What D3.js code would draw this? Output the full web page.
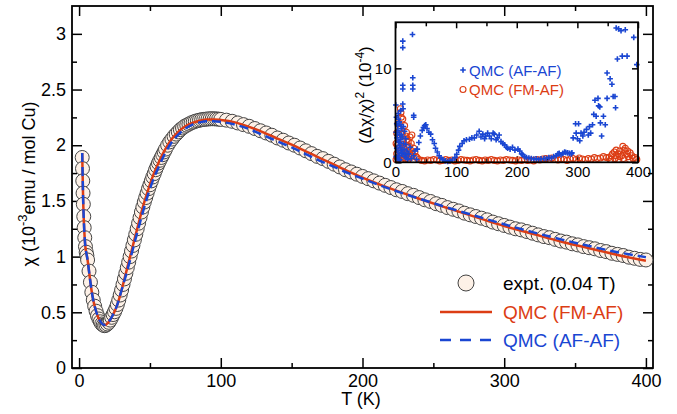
<!DOCTYPE html>
<html>
<head>
<meta charset="utf-8">
<style>
    body { margin: 0; background: #fff; }
    svg { font-family: 'Liberation Sans', Arial, sans-serif; }
    .axis .domain { display: none; }
    .axis .tick line { stroke: #000; stroke-width: 1.5; }
    .axis .tick text { fill: #000; }
</style>
</head>
<body>
<svg width="677" height="414"></svg>
<script src="https://cdn.jsdelivr.net/npm/d3@7"></script>
<script>
// experiment (0.04 T)
let expT = [2.2, 2.4, 2.6, 2.8, 3.0, 3.3, 3.6, 4.0, 4.5, 5, 5.5, 6, 7, 8, 9, 10, 11, 12, 13, 14, 15, 16, 17, 18, 19, 20, 21, 22, 23, 24,
    25, 26, 27, 28, 29, 30, 31, 32, 33, 34, 35, 36, 37, 38, 39, 40, 41, 42, 43, 44, 45, 46, 47, 48, 49, 50, 51, 52, 53, 54, 55, 56,
    57, 58, 59, 60, 61, 62.5, 64, 65.5, 67, 68.5, 70, 71.5, 73, 74.5, 76, 77.5, 79, 80.5, 82, 83.5, 85, 86.5, 88, 89.5, 91, 92.5,
    94, 95.5, 97, 98.5, 100,
    104, 108, 112, 116, 120, 124, 128, 132, 136, 140, 144, 148, 152, 156, 160, 164, 168, 172, 176, 180, 184, 188, 192, 196, 200,
    204, 208, 212, 216, 220, 224, 228, 232, 236, 240, 244, 248, 252, 256, 260, 264, 268, 272, 276, 280, 284, 288, 292, 296, 300,
    304, 308, 312, 316, 320, 324, 328, 332, 336, 340, 344, 348, 352, 356, 360, 364, 368, 372, 376, 380, 384, 388, 392, 396, 400]
let expChi = [1.89, 1.79, 1.68, 1.57, 1.47, 1.36, 1.26, 1.17, 1.09, 1.04, 1.01, 0.97, 0.87, 0.77, 0.68, 0.61, 0.555, 0.51, 0.47, 0.44,
    0.415, 0.395, 0.385, 0.38, 0.385, 0.395, 0.41, 0.43, 0.455, 0.48, 0.505, 0.535, 0.57, 0.61,
    0.655, 0.70, 0.75, 0.80, 0.85, 0.90, 0.95, 1.00, 1.05, 1.10, 1.15, 1.20, 1.25, 1.30, 1.35, 1.40, 1.445, 1.49, 1.53, 1.57,
    1.61, 1.645, 1.68, 1.715, 1.745, 1.78, 1.81, 1.84, 1.865, 1.89, 1.915, 1.94, 1.965,
    2.0, 2.03, 2.055, 2.08, 2.10, 2.12, 2.14, 2.155, 2.17, 2.18, 2.19, 2.20, 2.208, 2.215, 2.22, 2.225, 2.229, 2.232, 2.234, 2.236,
    2.237, 2.238, 2.237, 2.236, 2.234, 2.232,
    2.225, 2.215, 2.20, 2.185, 2.17, 2.15, 2.13, 2.11, 2.09, 2.065, 2.045, 2.02, 2.0, 1.975, 1.95, 1.925, 1.90, 1.88, 1.855, 1.83,
    1.805, 1.78, 1.76, 1.74, 1.72, 1.70, 1.68, 1.66, 1.64, 1.62, 1.60, 1.585, 1.565, 1.55, 1.53, 1.51, 1.495, 1.475, 1.46, 1.44,
    1.425, 1.41, 1.39, 1.375, 1.36, 1.345, 1.33, 1.31, 1.295, 1.28, 1.265, 1.25, 1.24, 1.225, 1.21, 1.195, 1.18, 1.17, 1.155, 1.14,
    1.13, 1.115, 1.105, 1.09, 1.08, 1.07, 1.055, 1.045, 1.03, 1.02, 1.01, 0.995, 0.985, 0.975, 0.97]

// QMC curves
let qmcT = [2.2, 2.4, 2.6, 2.8, 3.0, 3.3, 3.6, 4.0, 4.5, 5, 6, 7, 8, 9, 10, 11, 12, 13, 14, 15, 16, 17, 18, 19, 20, 22, 24, 26, 28, 30,
    33, 36, 39, 42, 45, 48, 52, 56, 60, 65, 70, 75, 80, 85, 90, 95, 100, 110, 120, 130, 140, 150, 160, 170, 180, 190, 200,
    220, 240, 260, 280, 300, 320, 340, 360, 380, 400]
let fmAf = [1.93, 1.80, 1.67, 1.55, 1.45, 1.34, 1.25, 1.16, 1.08, 1.04, 0.97, 0.87, 0.77, 0.68, 0.61, 0.555, 0.51, 0.47, 0.44, 0.418,
    0.40, 0.39, 0.387, 0.39, 0.40, 0.435, 0.48, 0.535, 0.61, 0.70,
    0.85, 1.00, 1.15, 1.30, 1.445, 1.57, 1.72, 1.84, 1.945, 2.05, 2.12, 2.17, 2.20, 2.22, 2.23, 2.232, 2.226, 2.205, 2.165, 2.115,
    2.06, 2.005, 1.945, 1.885, 1.825, 1.765, 1.71, 1.61, 1.52, 1.435, 1.355, 1.275, 1.205, 1.135, 1.075, 1.015, 0.962]
let afAf = [1.93, 1.80, 1.67, 1.55, 1.45, 1.34, 1.25, 1.16, 1.08, 1.04, 0.97, 0.87, 0.77, 0.68, 0.61, 0.555, 0.51, 0.47, 0.44, 0.418,
    0.40, 0.39, 0.387, 0.39, 0.40, 0.435, 0.48, 0.535, 0.61, 0.70,
    0.83, 0.97, 1.12, 1.26, 1.40, 1.53, 1.68, 1.80, 1.91, 2.02, 2.095, 2.15, 2.185, 2.205, 2.215, 2.215, 2.21, 2.185, 2.145, 2.09,
    2.035, 1.98, 1.92, 1.86, 1.805, 1.75, 1.70, 1.605, 1.52, 1.44, 1.365, 1.29, 1.22, 1.155, 1.095, 1.04, 0.995]

// inset: (dchi/chi)^2 in 1e-4, [T, value]
let devAfAf = [[0.5, 6.1], [1, 3.2], [1.5, 4.8], [2, 1.5], [2.5, 2.6], [3, 0.4], [3.5, 3.9], [4, 1.1], [4.5, 5.2], [5, 2.2], [5.5, 0.7],
    [6, 4.3], [6.5, 1.8], [7, 3.0], [7.5, 0.3], [8, 2.4], [8.5, 5.5], [9, 1.3], [9.5, 3.6], [10, 0.9], [11, 2.7], [12, 6.2], [12.5, 5.7],
    [13, 2.0], [14, 1.4], [15, 3.3], [16, 0.8], [17, 1.9], [18, 0.5], [19, 1.2], [20, 0.3], [1, 0.6], [2, 4.1], [3, 2.9], [4, 3.4],
    [5, 4.6], [6, 0.2], [7, 2.1], [8, 1.6], [9, 4.0], [10, 2.9], [11, 1.0], [13, 3.8], [15, 0.6], [17, 2.5], [22, 0.9], [24, 1.6],
    [26, 0.4], [30, 0.7], [32, 1.2], [35, 0.3],
    [12, 12.9], [12, 12.2], [12, 8.2], [12, 7.8], [28, 13.6], [28.5, 9.0], [28.5, 8.2], [28.5, 7.8], [30, 5.0], [30, 4.8],
    [36, 1.4], [38.5, 2.1], [41, 2.8], [44, 3.4], [46, 3.7], [48, 3.9], [50, 4.0], [52, 3.6], [55, 3.2], [58, 3.0], [61, 2.4], [64, 2.0],
    [66, 1.5], [69, 1.1], [72, 0.7], [75, 0.45], [78, 0.3], [82, 0.15], [86, 0.1], [90, 0.15], [94, 0.25], [98, 0.5], [101, 0.85],
    [104, 1.3], [106, 1.7], [110, 2.0], [113, 2.3], [117, 2.4], [122, 2.45], [126, 2.6], [130, 2.6], [134, 2.9], [138, 3.3], [141, 2.7],
    [144, 3.0], [147, 2.5], [149, 2.8], [152, 3.1], [155, 2.8], [158, 2.5], [161, 3.1], [163, 3.0], [166, 2.4], [168, 2.6], [171, 2.9],
    [174, 2.2], [177, 2.0], [180, 1.85], [183, 1.6], [185, 1.5], [189, 1.4], [193, 1.6], [197, 1.3], [202, 1.4], [205, 1.2], [208, 0.9],
    [210, 0.8], [213, 0.6], [216, 0.5], [220, 0.45], [224, 0.4], [228, 0.35], [232, 0.36], [236, 0.3], [240, 0.36], [245, 0.4],
    [249, 0.4], [253, 0.5], [257, 0.45], [261, 0.6], [265, 0.7], [268, 0.9], [270, 0.95], [273, 0.8], [276, 0.95], [279, 1.1],
    [281, 1.05], [284, 1.0], [287, 0.95], [290, 0.9], [291, 1.0],
    [293, 2.6], [297, 4.1], [298, 3.1], [300, 2.5], [302, 4.1], [304, 2.3], [306, 3.1], [309, 2.8], [311, 3.2], [315, 3.5], [318, 2.9],
    [320, 3.8], [322, 3.1], [325, 4.0], [327, 5.1], [329, 6.6], [331, 4.9], [334, 6.8], [335, 6.0], [337, 5.9], [338, 4.2], [340, 2.8],
    [343, 4.9], [346, 4.0], [349, 6.8], [349, 9.5], [354, 8.9], [357, 8.3], [359, 7.0], [362, 7.0], [363, 5.8], [364, 14.3],
    [366, 11.0], [368, 14.2], [372, 14.0], [374, 11.3], [379, 14.1], [382, 11.3], [393, 13.3], [398, 10.4]]

let devFmAf = [[1, 2.0], [2, 3.1], [3, 1.8], [4, 4.1], [5, 2.6], [6, 1.2], [7, 3.5], [8, 5.7], [9, 5.3], [9.5, 4.8], [10, 0.8],
    [11, 3.0], [12, 4.6], [13, 2.2], [14, 1.5], [15, 3.9], [16, 0.9], [17, 2.8], [18, 3.2], [19, 1.8], [20, 1.1], [21, 2.2], [22, 0.6],
    [23, 1.7], [24, 2.7], [25, 1.3], [27, 2.9], [28, 0.8], [30, 1.5], [32, 1.1], [34, 0.6], [36, 0.45], [1, 0.3], [2, 0.9], [3, 0.5],
    [5, 0.4], [7, 1.6], [9, 0.3], [11, 1.9], [13, 0.5], [15, 1.0], [17, 0.4], [19, 2.4], [21, 0.3], [23, 0.9], [25, 0.5], [26, 2.0],
    [352, 0.5], [356, 0.7], [358, 0.9], [361, 1.1], [364, 1.3], [364, 0.7], [367, 0.9], [370, 1.2], [370, 0.6], [373, 0.7], [375, 1.7],
    [377, 1.3], [379, 1.5], [381, 0.9], [383, 1.2], [384, 0.6], [387, 1.0], [390, 0.7], [392, 0.4], [395, 0.5], [398, 0.3], [355, 0.3],
    [362, 0.4], [368, 0.3], [376, 0.4], [386, 0.3]]
let baseT = [38, 43, 48, 53, 58, 63, 68, 73, 78, 83, 88, 93, 98, 103, 108, 113, 118, 123, 128, 133, 138, 143, 148, 153, 158, 163,
    168, 173, 178, 183, 188, 193, 198, 203, 208, 213, 218, 223, 228, 233, 238, 243, 248, 253, 258, 263, 268, 273, 278, 283, 288,
    293, 298, 303, 308, 313, 318, 323, 328, 333, 338, 343, 348]
let baseFmAf = [0.3, 0.2, 0.15, 0.25, 0.2, 0.3, 0.25, 0.15, 0.2, 0.3, 0.2, 0.25, 0.15, 0.2, 0.3, 0.25, 0.2, 0.15, 0.25, 0.3,
    0.2, 0.15, 0.25, 0.2, 0.3, 0.2, 0.15, 0.25, 0.2, 0.3, 0.25, 0.2, 0.15, 0.25, 0.2, 0.3, 0.2, 0.25, 0.15, 0.3,
    0.25, 0.35, 0.4, 0.3, 0.45, 0.3, 0.25, 0.35, 0.3, 0.2, 0.35, 0.4, 0.3, 0.45, 0.35, 0.3, 0.4, 0.35, 0.5, 0.4, 0.45, 0.6, 0.5]

let xMajor = [0, 100, 200, 300, 400]
let xMinor = [50, 150, 250, 350]
let yMajor = [0, 0.5, 1, 1.5, 2, 2.5, 3]
let yMinor = [0.25, 0.75, 1.25, 1.75, 2.25, 2.75]

let red = "#dc3d14"
let blue = "#1a46d2"

let svg = d3.select("svg")

let x = d3.scaleLinear().domain([-5, 405]).range([72, 653])
let y = d3.scaleLinear().domain([0, 3.25]).range([368, 6])

// main axes, ticks inward on all sides
function addAxis(axis, tr, size) {
    return svg.append("g").attr("class", "axis").attr("transform", tr)
        .call(axis).style("font-size", size + "px")
}
addAxis(d3.axisBottom(x).tickValues(xMajor).tickSize(-10).tickPadding(6), `translate(0,368)`, 18)
addAxis(d3.axisBottom(x).tickValues(xMinor).tickSize(-5).tickFormat(""), `translate(0,368)`, 18)
addAxis(d3.axisTop(x).tickValues(xMajor).tickSize(-10).tickFormat(""), `translate(0,6)`, 18)
addAxis(d3.axisTop(x).tickValues(xMinor).tickSize(-5).tickFormat(""), `translate(0,6)`, 18)
addAxis(d3.axisLeft(y).tickValues(yMajor).tickSize(-10).tickPadding(6).tickFormat(d3.format("~g")), `translate(72,0)`, 18)
addAxis(d3.axisLeft(y).tickValues(yMinor).tickSize(-5).tickFormat(""), `translate(72,0)`, 18)
addAxis(d3.axisRight(y).tickValues(yMajor).tickSize(-10).tickFormat(""), `translate(653,0)`, 18)
addAxis(d3.axisRight(y).tickValues(yMinor).tickSize(-5).tickFormat(""), `translate(653,0)`, 18)

svg.append("rect").attr("x", 72).attr("y", 6).attr("width", 581).attr("height", 362)
    .attr("fill", "none").attr("stroke", "#000").attr("stroke-width", 1.8)

// axis titles
svg.append("text").attr("x", 361).attr("y", 405).attr("text-anchor", "middle")
    .style("font-size", "18px").text("T (K)")

let ylab = svg.append("text").attr("transform", "translate(35,184) rotate(-90)")
    .attr("text-anchor", "middle").style("font-size", "18px")
ylab.append("tspan").text("χ (10")
ylab.append("tspan").attr("dy", -8).style("font-size", "13px").text("-3")
ylab.append("tspan").attr("dy", 8).text("emu / mol Cu)")

// experimental circles
svg.append("g").selectAll("circle")
    .data(expT.map((t, i) => [t, expChi[i]]))
    .join("circle")
    .attr("cx", d => x(d[0])).attr("cy", d => y(d[1])).attr("r", 7)
    .attr("fill", "#fdf1e7").attr("stroke", "#444").attr("stroke-width", 1)

let line = d3.line().x(d => x(d[0])).y(d => y(d[1])).curve(d3.curveMonotoneX)

svg.append("path").datum(qmcT.map((t, i) => [t, fmAf[i]]))
    .attr("d", line).attr("fill", "none").attr("stroke", red).attr("stroke-width", 2.5)
svg.append("path").datum(qmcT.map((t, i) => [t, afAf[i]]))
    .attr("d", line).attr("fill", "none").attr("stroke", blue).attr("stroke-width", 2.5)
    .attr("stroke-dasharray", "9,5")

// main legend
svg.append("circle").attr("cx", 466).attr("cy", 283).attr("r", 8)
    .attr("fill", "#fdf1e7").attr("stroke", "#444").attr("stroke-width", 1)
svg.append("text").attr("x", 503).attr("y", 290).style("font-size", "19px").text("expt. (0.04 T)")
svg.append("line").attr("x1", 440).attr("x2", 492).attr("y1", 312).attr("y2", 312)
    .attr("stroke", red).attr("stroke-width", 2.5)
svg.append("text").attr("x", 503).attr("y", 319).style("font-size", "19px").attr("fill", red).text("QMC (FM-AF)")
svg.append("line").attr("x1", 440).attr("x2", 492).attr("y1", 340).attr("y2", 340)
    .attr("stroke", blue).attr("stroke-width", 2.5).attr("stroke-dasharray", "11,9")
svg.append("text").attr("x", 503).attr("y", 347).style("font-size", "19px").attr("fill", blue).text("QMC (AF-AF)")

// inset
let ix = d3.scaleLinear().domain([0, 400]).range([395.5, 638])
let iy = d3.scaleLinear().domain([0, 14.9]).range([162.3, 22.3])

svg.append("rect").attr("x", 395.5).attr("y", 22.3).attr("width", 242.5).attr("height", 140)
    .attr("fill", "#fff")

function addInsetAxis(axis, tr) {
    return svg.append("g").attr("class", "axis").attr("transform", tr)
        .call(axis).style("font-size", "15px")
}
addInsetAxis(d3.axisBottom(ix).tickValues(xMajor).tickSize(-6).tickPadding(4), `translate(0,162.3)`)
addInsetAxis(d3.axisBottom(ix).tickValues(xMinor).tickSize(-4).tickFormat(""), `translate(0,162.3)`)
addInsetAxis(d3.axisTop(ix).tickValues(xMajor).tickSize(-6).tickFormat(""), `translate(0,22.3)`)
addInsetAxis(d3.axisTop(ix).tickValues(xMinor).tickSize(-4).tickFormat(""), `translate(0,22.3)`)
addInsetAxis(d3.axisLeft(iy).tickValues([0, 10]).tickSize(-6).tickPadding(4), `translate(395.5,0)`)
addInsetAxis(d3.axisLeft(iy).tickValues([5]).tickSize(-4).tickFormat(""), `translate(395.5,0)`)
addInsetAxis(d3.axisRight(iy).tickValues([0, 10]).tickSize(-6).tickFormat(""), `translate(638,0)`)
addInsetAxis(d3.axisRight(iy).tickValues([5]).tickSize(-4).tickFormat(""), `translate(638,0)`)

let ilab = svg.append("text").attr("transform", "translate(371,95) rotate(-90)")
    .attr("text-anchor", "middle").style("font-size", "17px")
ilab.append("tspan").text("(Δχ/χ)")
ilab.append("tspan").attr("dy", -7).style("font-size", "12px").text("2")
ilab.append("tspan").attr("dy", 7).text(" (10")
ilab.append("tspan").attr("dy", -7).style("font-size", "12px").text("-4")
ilab.append("tspan").attr("dy", 7).text(")")

let plus = "M-2.8,0H2.8M0,-2.8V2.8"

// FM-AF deviations (hollow circles)
svg.append("g").selectAll("circle")
    .data(devFmAf.concat(baseT.map((t, i) => [t, baseFmAf[i]])))
    .join("circle")
    .attr("cx", d => ix(d[0])).attr("cy", d => iy(d[1])).attr("r", 3)
    .attr("fill", "none").attr("stroke", red).attr("stroke-width", 1.1)

// AF-AF deviations (plus)
svg.append("g").selectAll("path")
    .data(devAfAf)
    .join("path")
    .attr("transform", d => `translate(${ix(d[0])},${iy(d[1])})`)
    .attr("d", plus).attr("stroke", blue).attr("stroke-width", 1.6)

svg.append("rect").attr("x", 395.5).attr("y", 22.3).attr("width", 242.5).attr("height", 140)
    .attr("fill", "none").attr("stroke", "#000").attr("stroke-width", 1.8)

// inset legend
svg.append("path").attr("transform", "translate(463,70)").attr("d", plus)
    .attr("stroke", blue).attr("stroke-width", 1.6)
svg.append("text").attr("x", 469).attr("y", 75.5).style("font-size", "15px").attr("fill", blue).text("QMC (AF-AF)")
svg.append("circle").attr("cx", 463).attr("cy", 89.5).attr("r", 3)
    .attr("fill", "none").attr("stroke", red).attr("stroke-width", 1.1)
svg.append("text").attr("x", 469).attr("y", 95).style("font-size", "15px").attr("fill", red).text("QMC (FM-AF)")
</script>
</body>
</html>
